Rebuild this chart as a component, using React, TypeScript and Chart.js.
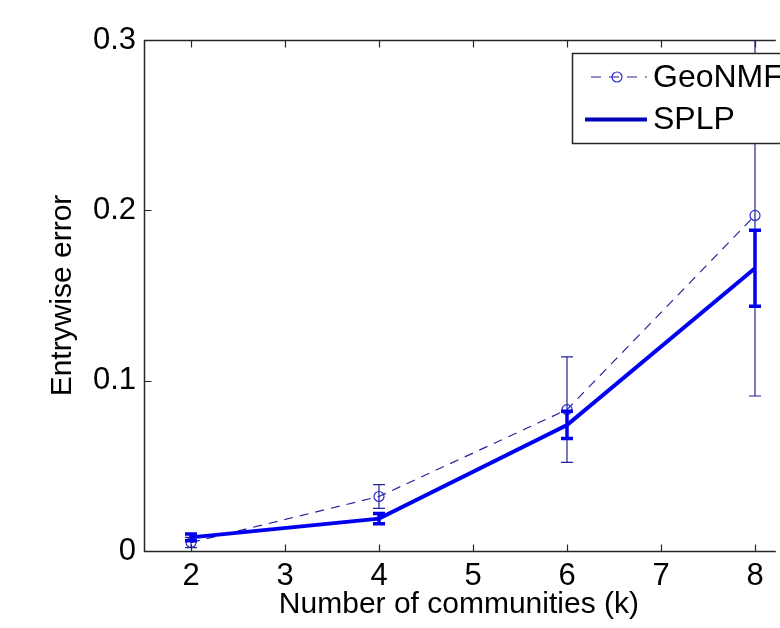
import React, { useEffect, useRef } from 'react';
import { Chart, registerables } from 'chart.js';

Chart.register(...registerables);

// ---- data ----
const ks = [2, 4, 6, 8];
const geoNMF = [0.005, 0.032, 0.083, 0.197];
const geoNMFErr = [0.003, 0.007, 0.031, 0.106];
const splp = [0.008, 0.019, 0.074, 0.166];
const splpErr = [0.002, 0.003, 0.008, 0.0223];
const xTicks = [2, 3, 4, 5, 6, 7, 8];
const yTicks = [0, 0.1, 0.2, 0.3];
const seriesNames = ['GeoNMF', 'SPLP'];
const xTitle = 'Number of communities (k)';
const yTitle = 'Entrywise error';

const FONT = '"Liberation Sans", Arial, Helvetica, sans-serif';
const GEO_LINE = '#22229a';
const GEO_MARK = '#2a2ad0';
const SPLP_COLOR = '#0000ee';

const errorsByIndex: Record<number, { err: number[]; color: string; width: number; cap: number }> = {
  0: { err: splpErr, color: SPLP_COLOR, width: 3.5, cap: 6 },
  1: { err: geoNMFErr, color: GEO_LINE, width: 1.2, cap: 6 },
};

const errorBarPlugin = {
  id: 'errorBars',
  afterDatasetDraw(chart: any, args: any) {
    const info = errorsByIndex[args.index];
    if (!info) return;
    const ds = chart.data.datasets[args.index];
    const { ctx, chartArea } = chart;
    const xs = chart.scales.x;
    const ys = chart.scales.y;
    ctx.save();
    ctx.beginPath();
    ctx.rect(chartArea.left, chartArea.top, chartArea.right - chartArea.left, chartArea.bottom - chartArea.top);
    ctx.clip();
    ctx.strokeStyle = info.color;
    ctx.lineWidth = info.width;
    ds.data.forEach((p: any, i: number) => {
      const x = xs.getPixelForValue(p.x);
      const yt = ys.getPixelForValue(p.y + info.err[i]);
      const yb = ys.getPixelForValue(p.y - info.err[i]);
      ctx.beginPath();
      ctx.moveTo(x, yt);
      ctx.lineTo(x, yb);
      ctx.moveTo(x - info.cap, yt);
      ctx.lineTo(x + info.cap, yt);
      ctx.moveTo(x - info.cap, yb);
      ctx.lineTo(x + info.cap, yb);
      ctx.stroke();
    });
    ctx.restore();
  },
};

const framePlugin = {
  id: 'matlabFrame',
  afterDraw(chart: any) {
    const { ctx, chartArea } = chart;
    const xs = chart.scales.x;
    const ys = chart.scales.y;
    const L = Math.round(chartArea.left) + 0.5;
    const T = Math.round(chartArea.top) + 0.5;
    const B = Math.round(chartArea.bottom) + 0.5;
    const R = chartArea.right + 2;
    const tl = 7;
    ctx.save();
    ctx.strokeStyle = '#262626';
    ctx.lineWidth = 1.5;
    ctx.beginPath();
    ctx.moveTo(R, T);
    ctx.lineTo(L, T);
    ctx.lineTo(L, B);
    ctx.lineTo(R, B);
    ctx.stroke();
    ctx.lineWidth = 1.2;
    ctx.beginPath();
    xTicks.forEach((v) => {
      const x = Math.round(xs.getPixelForValue(v)) + 0.5;
      ctx.moveTo(x, B);
      ctx.lineTo(x, B - tl);
      ctx.moveTo(x, T);
      ctx.lineTo(x, T + tl);
    });
    yTicks.forEach((v) => {
      const y = Math.round(ys.getPixelForValue(v)) + 0.5;
      ctx.moveTo(L, y);
      ctx.lineTo(L + tl, y);
    });
    ctx.stroke();

    // legend box (MATLAB style, top-right, partly cut off)
    const lx = 572.5;
    const ly = 53.5;
    const lb = 143.5;
    ctx.fillStyle = '#ffffff';
    ctx.fillRect(lx, ly, 800 - lx, lb - ly);
    ctx.strokeStyle = '#262626';
    ctx.lineWidth = 1.5;
    ctx.beginPath();
    ctx.moveTo(800, ly);
    ctx.lineTo(lx, ly);
    ctx.lineTo(lx, lb);
    ctx.lineTo(800, lb);
    ctx.stroke();

    const y1 = 77;
    const y2 = 119.5;
    // GeoNMF sample
    ctx.strokeStyle = GEO_LINE;
    ctx.lineWidth = 1.2;
    ctx.setLineDash([10, 8]);
    ctx.beginPath();
    ctx.moveTo(591, y1);
    ctx.lineTo(647, y1);
    ctx.stroke();
    ctx.setLineDash([]);
    ctx.strokeStyle = GEO_MARK;
    ctx.beginPath();
    ctx.arc(617, y1, 5, 0, Math.PI * 2);
    ctx.stroke();
    // SPLP sample
    ctx.strokeStyle = '#0000b8';
    ctx.lineWidth = 4;
    ctx.beginPath();
    ctx.moveTo(585, y2);
    ctx.lineTo(647, y2);
    ctx.stroke();

    ctx.fillStyle = '#000000';
    ctx.font = `32px ${FONT}`;
    ctx.textAlign = 'left';
    ctx.textBaseline = 'middle';
    ctx.fillText(seriesNames[0], 653, y1 + 1);
    ctx.fillText(seriesNames[1], 653, y2 + 1);
    ctx.restore();
  },
};

export default function App() {
  const ref = useRef<HTMLCanvasElement | null>(null);

  useEffect(() => {
    if (!ref.current) return;
    const chart = new Chart(ref.current, {
      type: 'line',
      data: {
        datasets: [
          {
            label: seriesNames[1],
            data: ks.map((k, i) => ({ x: k, y: splp[i] })),
            borderColor: SPLP_COLOR,
            backgroundColor: SPLP_COLOR,
            borderWidth: 4,
            pointRadius: 0,
            tension: 0,
            order: 1,
          },
          {
            label: seriesNames[0],
            data: ks.map((k, i) => ({ x: k, y: geoNMF[i] })),
            borderColor: GEO_LINE,
            backgroundColor: 'rgba(0,0,0,0)',
            borderWidth: 1.2,
            borderDash: [9, 7],
            pointRadius: 5,
            pointStyle: 'circle',
            pointBackgroundColor: 'rgba(0,0,0,0)',
            pointBorderColor: GEO_MARK,
            pointBorderWidth: 1.2,
            tension: 0,
            order: 2,
          },
        ],
      },
      options: {
        animation: false,
        responsive: false,
        events: [],
        layout: { padding: { top: 40, left: 0, right: 0, bottom: 0 } },
        plugins: {
          legend: { display: false },
          tooltip: { enabled: false },
        },
        scales: {
          x: {
            type: 'linear',
            min: 1.5,
            max: 8.2,
            grid: { display: false, drawTicks: false },
            border: { display: false },
            afterBuildTicks: (scale: any) => {
              scale.ticks = xTicks.map((v) => ({ value: v }));
            },
            afterFit: (scale: any) => {
              scale.height = 77;
            },
            ticks: {
              autoSkip: false,
              maxRotation: 0,
              padding: 7,
              color: '#000',
              font: { family: FONT, size: 31 },
              callback: (v: any) => String(v),
            },
            title: {
              display: true,
              text: xTitle,
              color: '#000',
              font: { family: FONT, size: 30 },
              padding: { top: 0, bottom: 5 },
            },
          },
          y: {
            type: 'linear',
            min: 0,
            max: 0.3,
            grid: { display: false, drawTicks: false },
            border: { display: false },
            afterBuildTicks: (scale: any) => {
              scale.ticks = yTicks.map((v) => ({ value: v }));
            },
            afterFit: (scale: any) => {
              scale.width = 144;
            },
            ticks: {
              autoSkip: false,
              padding: 8,
              color: '#000',
              font: { family: FONT, size: 31 },
              callback: (v: any) => (Number(v) === 0 ? '0' : Number(v).toFixed(1)),
            },
            title: {
              display: true,
              text: yTitle,
              color: '#000',
              font: { family: FONT, size: 30 },
              padding: { top: 45, bottom: 0 },
            },
          },
        },
      },
      plugins: [errorBarPlugin, framePlugin],
    });
    return () => chart.destroy();
  }, []);

  return (
    <div style={{ position: 'fixed', left: 0, top: 0, width: 780, height: 628, background: '#fff' }}>
      <canvas ref={ref} width={780} height={628} style={{ display: 'block' }} />
    </div>
  );
}
